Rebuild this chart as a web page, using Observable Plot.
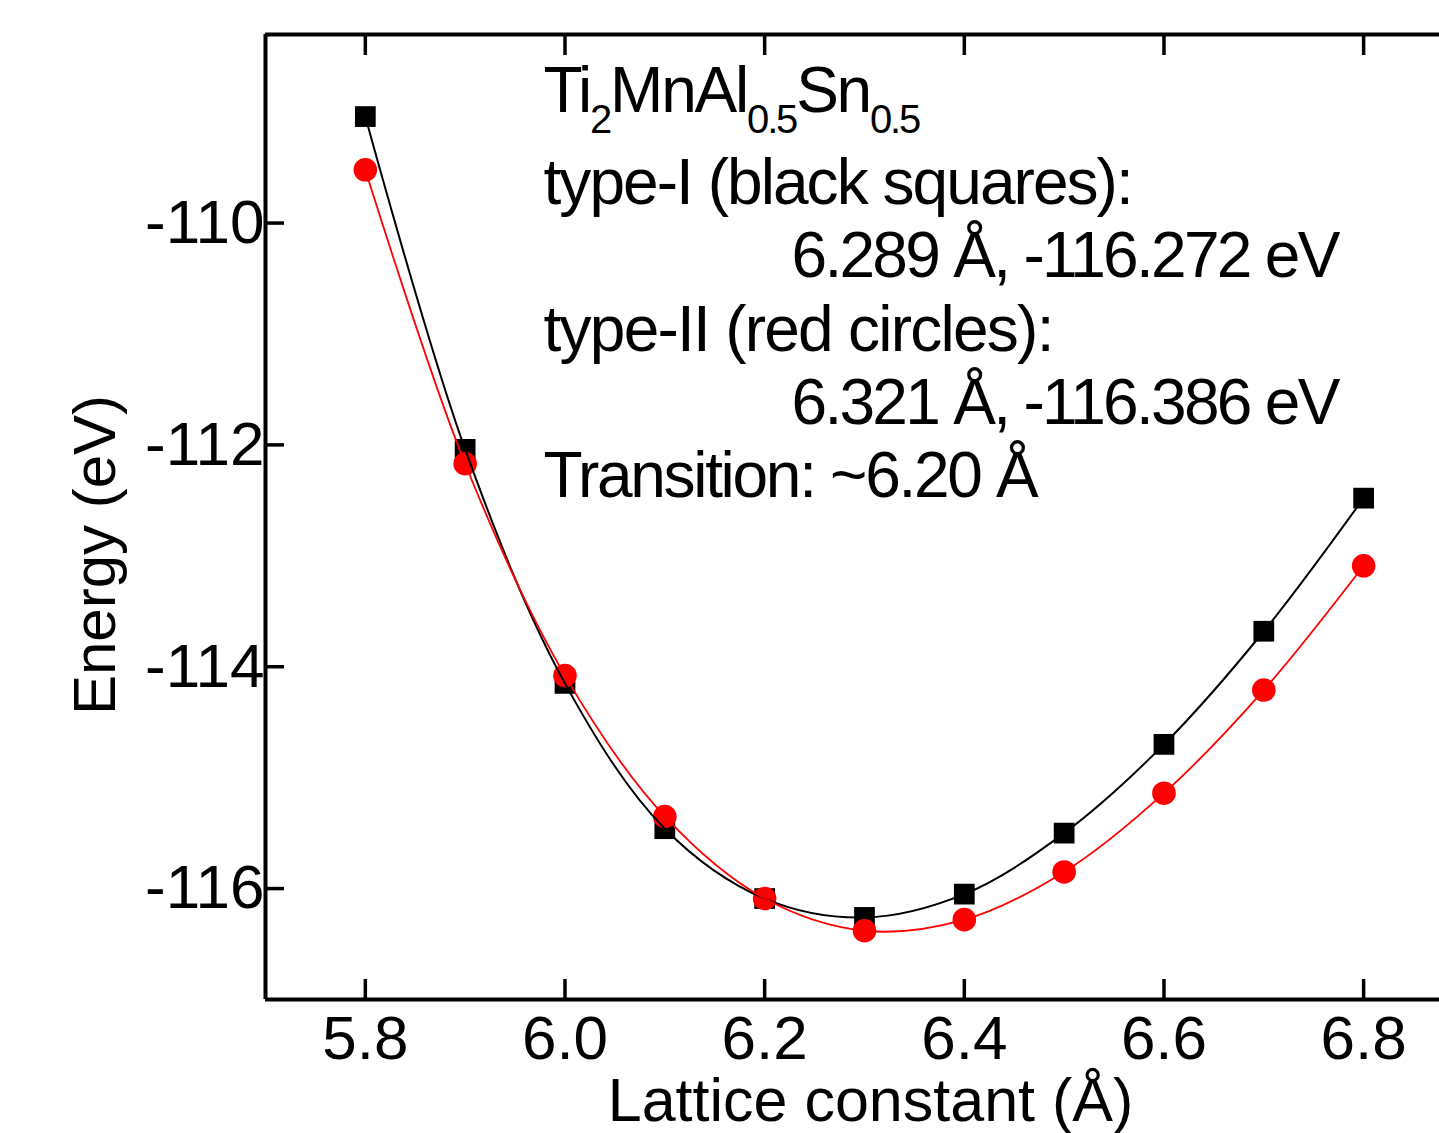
<!DOCTYPE html>
<html>
<head>
<meta charset="utf-8">
<script src="https://cdn.jsdelivr.net/npm/d3@7"></script>
<script src="https://cdn.jsdelivr.net/npm/@observablehq/plot@0.6"></script>
<style>
  html, body { margin: 0; padding: 0; background: #fff; }
  #chart svg { display: block; }
</style>
</head>
<body>
<div id="chart"></div>
<script>
// ---- data ----
const latticeConstants = [5.8, 5.9, 6.0, 6.1, 6.2, 6.3, 6.4, 6.5, 6.6, 6.7, 6.8];
const typeIEnergy  = [-109.04, -112.04, -114.15, -115.46, -116.09, -116.26, -116.05, -115.50, -114.70, -113.68, -112.48];
const typeIIEnergy = [-109.52, -112.17, -114.08, -115.35, -116.09, -116.38, -116.28, -115.85, -115.14, -114.21, -113.09];

const xDomain = [5.7, 6.876];
const yDomain = [-117, -108.3];
const xTicks = [5.8, 6.0, 6.2, 6.4, 6.6, 6.8];
const yTicks = [-110, -112, -114, -116];

const xLabel = "Lattice constant (Å)";
const yLabel = "Energy (eV)";

const formulaParts = [
  {text: "Ti", sub: false},
  {text: "2", sub: true},
  {text: "MnAl", sub: false},
  {text: "0.5", sub: true},
  {text: "Sn", sub: false},
  {text: "0.5", sub: true}
];
const formulaText = formulaParts.map(p => p.text).join("");
const annotationLines = [
  {text: "type-I (black squares):", indent: false},
  {text: "6.289 Å, -116.272 eV", indent: true},
  {text: "type-II (red circles):", indent: false},
  {text: "6.321 Å, -116.386 eV", indent: true},
  {text: "Transition: ~6.20 Å", indent: false}
];
// per-line letter spacing (px) so each line's extent matches the reference
const annotationSpacing = [-1.95, -2.7, -1.75, -2.7, -2.3];

// ---- tables ----
const typeI = latticeConstants.map((a, i) => ({a, e: typeIEnergy[i]}));
const typeII = latticeConstants.map((a, i) => ({a, e: typeIIEnergy[i]}));

const FONT = '"Liberation Sans", Arial, Helvetica, sans-serif';
const ANNO_SIZE = 64;
const LINE_STEP = 73.3;

const annoMarks = annotationLines.map((line, i) =>
  Plot.text([line.text], {
    frameAnchor: "top-left",
    textAnchor: "start",
    lineAnchor: "middle",
    dx: line.indent ? 526 : 278,
    dy: 149 + i * LINE_STEP,
    fontSize: ANNO_SIZE,
    fill: "black"
  })
);

const svg = Plot.plot({
  width: 1439,
  height: 1133,
  marginLeft: 265,
  marginRight: 0,
  marginTop: 34,
  marginBottom: 134,
  style: {fontFamily: FONT, background: "white", color: "black", overflow: "visible"},
  x: {domain: xDomain},
  y: {domain: yDomain},
  marks: [
    // frame (left, top, bottom; right edge lies outside the picture)
    Plot.ruleX([xDomain[0]], {stroke: "black", strokeWidth: 4}),
    Plot.ruleY([yDomain[0], yDomain[1]], {stroke: "black", strokeWidth: 4}),
    // axes with inward ticks
    Plot.axisX({ticks: xTicks, anchor: "bottom", tickSize: -20, tickPadding: 35,
      tickFormat: d3.format(".1f"), fontSize: 62, strokeWidth: 3.5, label: null}),
    Plot.axisX({ticks: xTicks, anchor: "top", tickSize: -20, tickPadding: 0,
      tickFormat: () => "", strokeWidth: 3.5, label: null}),
    Plot.axisY({ticks: yTicks, anchor: "left", tickSize: -19, tickPadding: 20,
      tickFormat: d => String(d), fontSize: 62, strokeWidth: 3.5, label: null}),
    // axis titles
    Plot.text([xLabel], {frameAnchor: "bottom", textAnchor: "middle", lineAnchor: "middle", dx: 18, dy: 102, fontSize: 61, fill: "black"}),
    Plot.text([yLabel], {frameAnchor: "left", textAnchor: "middle", rotate: -90, lineAnchor: "middle", dx: -170, dy: 38, fontSize: 60, fill: "black"}),
    // data
    Plot.dot(typeI, {x: "a", y: "e", symbol: "square", r: 11.7, fill: "black", stroke: "none"}),
    Plot.dot(typeII, {x: "a", y: "e", symbol: "circle", r: 11.8, fill: "#ff0000", stroke: "none"}),
    Plot.line(typeI, {x: "a", y: "e", curve: "catmull-rom", stroke: "black", strokeWidth: 2}),
    Plot.line(typeII, {x: "a", y: "e", curve: "catmull-rom", stroke: "#ff0000", strokeWidth: 1.8}),
    // annotation
    Plot.text([formulaText], {frameAnchor: "top-left", textAnchor: "start", lineAnchor: "middle",
      dx: 278, dy: 57, fontSize: ANNO_SIZE, fill: "black"}),
    ...annoMarks
  ]
});

// post-process: subscripts in the formula and condensed annotation text
d3.select(svg).selectAll("text").each(function() {
  const t = d3.select(this);
  const content = this.textContent;
  const idx = annotationLines.findIndex(l => l.text === content);
  if (content === formulaText) {
    t.text(null).style("letter-spacing", "-2.2px");
    let shifted = false;
    formulaParts.forEach(p => {
      const ts = t.append("tspan").text(p.text);
      if (p.sub && !shifted) { ts.attr("dy", 21.5).attr("font-size", 40); shifted = true; }
      else if (p.sub) { ts.attr("font-size", 40); }
      else if (!p.sub && shifted) { ts.attr("dy", -21.5); shifted = false; }
    });
  } else if (idx >= 0) {
    t.style("letter-spacing", annotationSpacing[idx] + "px");
  }
});

document.getElementById("chart").appendChild(svg);
</script>
</body>
</html>
